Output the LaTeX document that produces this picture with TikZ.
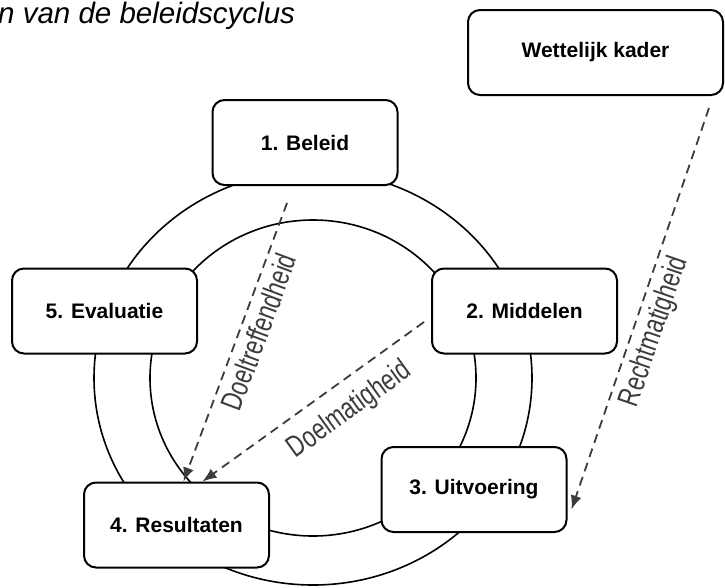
\documentclass[tikz,border=0pt]{standalone}
\usepackage{fontspec}
\setmainfont{Liberation Sans}
\newfontfamily\narrowfont[FakeStretch=0.75]{Liberation Sans}
\usetikzlibrary{arrows.meta}

\definecolor{lblgray}{RGB}{60,60,60}

\tikzset{
  stepbox/.style={draw, line width=2pt, rounded corners=12pt, fill=white,
    minimum width=185pt, minimum height=85pt,
    font=\fontsize{21}{25}\selectfont\bfseries},
  ring/.style={line width=1.6pt},
  check/.style={draw=lblgray, line width=1.8pt, dash pattern=on 9pt off 6pt,
    -{Latex[length=14pt,width=11pt]}},
  checklabel/.style={text=lblgray, font=\narrowfont\fontsize{30}{34}\selectfont,
    sloped, below=3pt}
}

\begin{document}
\begin{tikzpicture}[x=1pt, y=-1pt]
  \useasboundingbox (0,0) rectangle (725,587);

  % Title (cut off at the left)
  \node[anchor=base west, inner sep=0, font=\itshape\fontsize{29.5}{34}\selectfont]
    (title) at (-2,23) {n van de beleidscyclus};

  % Draw the two rings of the cycle
  \draw[ring] (313,378) ellipse [x radius=219pt, y radius=207pt];
  \draw[ring] (313,378) ellipse [x radius=163pt, y radius=158pt];

  % Steps of the cycle
  \node[stepbox] (beleid) at (305,142.5) {1. Beleid};
  \node[stepbox] (middelen) at (524.5,311) {2. Middelen};
  \node[stepbox] (uitvoering) at (474,489.5) {3. Uitvoering};
  \node[stepbox] (resultaten) at (176.5,525) {4. Resultaten};
  \node[stepbox] (evaluatie) at (104.5,311) {5. Evaluatie};
  \node[stepbox, minimum width=255pt] (kader) at (595.5,52.5) {Wettelijk kader};

  % Dashed checks
  \draw[check] ([xshift=-18pt,yshift=-17pt]beleid.south) -- ([xshift=7pt]resultaten.north)
    node[checklabel, pos=0.44] {Doeltreffendheid};
  \draw[check] ([xshift=-7pt,yshift=-11pt]middelen.west) -- ([xshift=26pt]resultaten.north)
    node[checklabel, pos=0.41, below=7pt] {Doelmatigheid};
  \draw[check] ([xshift=-15pt,yshift=-12pt]kader.south east) -- ([xshift=4pt,yshift=-20pt]uitvoering.east)
    node[checklabel, pos=0.54] {Rechtmatigheid};

\end{tikzpicture}
\end{document}
